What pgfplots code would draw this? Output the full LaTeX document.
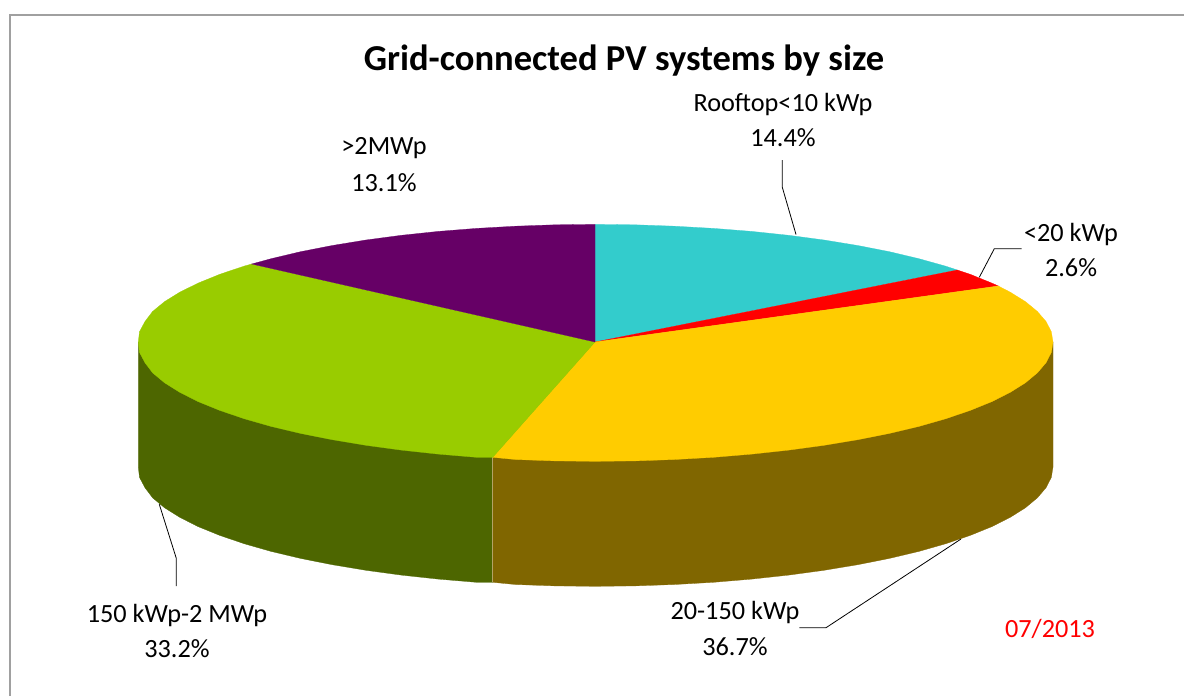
\documentclass[border=0pt]{standalone}
\usepackage{pgfplots}
\pgfplotsset{compat=1.18}
\usepackage{fontspec}
\setmainfont{Carlito}
\definecolor{ccyan}{HTML}{33CCCC}
\definecolor{cred}{HTML}{FF0000}
\definecolor{cyel}{HTML}{FFCC00}
\definecolor{cgrn}{HTML}{99CC00}
\definecolor{cpur}{HTML}{660066}
\definecolor{cbrn}{HTML}{806600}
\definecolor{cdgr}{HTML}{4D6600}
\definecolor{cframe}{HTML}{A0A0A0}
\tikzset{
  lbl/.style={font=\fontsize{19.7}{22}\selectfont, anchor=base, text=black, inner sep=0pt},
  leader/.style={black, line width=0.6pt},
}
\begin{document}
\begin{tikzpicture}
\begin{axis}[
  scale only axis, width=888pt, height=522pt,
  xmin=0, xmax=1184, ymin=0, ymax=696, y dir=reverse,
  hide axis,
]
% background and frame
\addplot[fill=white, draw=none] coordinates {(0,0) (1184,0) (1184,696) (0,696)} --cycle;
\addplot[cframe, line width=1.5pt] coordinates {(10,696) (10,14.5) (1184,14.5)};

% side walls
\addplot[fill=cbrn, draw=cbrn, line width=0.2pt] coordinates {
 (595,342) (1053,342) (1053,467) (1051.3,477.4) (1046,487.7) (1037.4,497.8) (1025.4,507.8) (1010.1,517.4)
 (991.6,526.7) (970.2,535.4) (945.8,543.7) (918.9,551.4) (889.4,558.4) (857.7,564.7) (824,570.3)
 (788.6,575.1) (751.6,579.1) (713.5,582.3) (674.5,584.5) (634.9,585.9) (595,586.3) (555.1,585.9)
 (515.5,584.5) (492.7,582.3) (492.7,457.3)} --cycle;
\addplot[fill=cdgr, draw=cdgr, line width=0.2pt] coordinates {
 (595,342) (492.7,457.3) (492.7,582.3) (476.5,582.3) (438.4,579.1) (401.4,575.1) (366,570.3) (332.3,564.7)
 (300.6,558.4) (271.1,551.4) (244.2,543.7) (219.8,535.4) (198.4,526.7) (179.9,517.4) (164.6,507.8)
 (152.6,497.8) (145,487.7) (139.5,477.4) (138.3,467) (138.3,342)} --cycle;
\addplot[color=cbrn!60!white, line width=0.5pt] coordinates {(492.7,457.3) (492.7,582.3)};

% top face: Rooftop<10 kWp 14.4
\addplot[fill=ccyan, draw=ccyan, line width=0.2pt] coordinates {
 (595,342) (595,224.4) (634.9,224.8) (674.5,226.2) (713.5,228.4) (751.6,231.4) (788.6,235.3) (824,240)
 (857.7,245.5) (889.4,251.7) (918.9,258.7) (945.8,266.2) (957.3,270)} --cycle;
% <20 kWp 2.6
\addplot[fill=cred, draw=cred, line width=0.2pt] coordinates {
 (595,342) (957.3,270) (970.2,274.3) (991.6,283) (998.3,286)} --cycle;
% 20-150 kWp 36.7
\addplot[fill=cyel, draw=cyel, line width=0.2pt] coordinates {
 (595,342) (998.3,286) (1010.1,292.1) (1025.4,301.6) (1037.4,311.5) (1046,321.5) (1051.3,331.7) (1053,342)
 (1051.3,352.4) (1046,362.7) (1037.4,372.8) (1025.4,382.8) (1010.1,392.4) (991.6,401.7) (970.2,410.4)
 (945.8,418.7) (918.9,426.4) (889.4,433.4) (857.7,439.7) (824,445.3) (788.6,450.1) (751.6,454.1)
 (713.5,457.3) (674.5,459.5) (634.9,460.9) (595,461.3) (555.1,460.9) (515.5,459.5) (492.7,457.3)} --cycle;
% 150 kWp-2 MWp 33.2
\addplot[fill=cgrn, draw=cgrn, line width=0.2pt] coordinates {
 (595,342) (492.7,457.3) (476.5,457.3) (438.4,454.1) (401.4,450.1) (366,445.3) (332.3,439.7) (300.6,433.4)
 (271.1,426.4) (244.2,418.7) (219.8,410.4) (198.4,401.7) (179.9,392.4) (164.6,382.8) (152.6,372.8)
 (145,362.7) (139.5,352.4) (138.3,342) (139.5,331.7) (145,321.5) (152.6,311.5) (164.6,301.6) (179.9,292.1)
 (198.4,283) (219.8,274.3) (244.2,266.1) (251.7,264)} --cycle;
% >2MWp 13.1
\addplot[fill=cpur, draw=cpur, line width=0.2pt] coordinates {
 (595,342) (251.7,264) (271.1,258.7) (300.6,251.7) (332.3,245.5) (366,240) (401.4,235.3) (438.4,231.4)
 (476.5,228.4) (515.5,226.2) (555.1,224.8) (595,224.4)} --cycle;

% leader lines
\addplot[leader] coordinates {(782.3,160) (782.3,187.3) (796,234.5)};
\addplot[leader] coordinates {(1021.7,248.7) (994.3,248.7) (979.3,277.3)};
\addplot[leader] coordinates {(176.3,586) (176.3,558.3) (159.3,504.3)};
\addplot[leader] coordinates {(799.3,627.7) (826,627.7) (961,539)};

% text
\node[anchor=base, inner sep=0pt, font=\bfseries\fontsize{27.4}{30}\selectfont] at (axis cs:624,70) {Grid-connected PV systems by size};
\node[lbl] at (axis cs:783,111) {Rooftop<10 kWp};
\node[lbl] at (axis cs:783,146.5) {14.4\%};
\node[lbl] at (axis cs:384,154.5) {>2MWp};
\node[lbl] at (axis cs:384,191.5) {13.1\%};
\node[lbl] at (axis cs:1071,241) {<20 kWp};
\node[lbl] at (axis cs:1071,276) {2.6\%};
\node[lbl] at (axis cs:177,622) {150 kWp-2 MWp};
\node[lbl] at (axis cs:177,657) {33.2\%};
\node[lbl] at (axis cs:735,619.5) {20-150 kWp};
\node[lbl] at (axis cs:735,655) {36.7\%};
\node[lbl, text=red] at (axis cs:1050,637.5) {07/2013};
\end{axis}
\end{tikzpicture}
\end{document}
